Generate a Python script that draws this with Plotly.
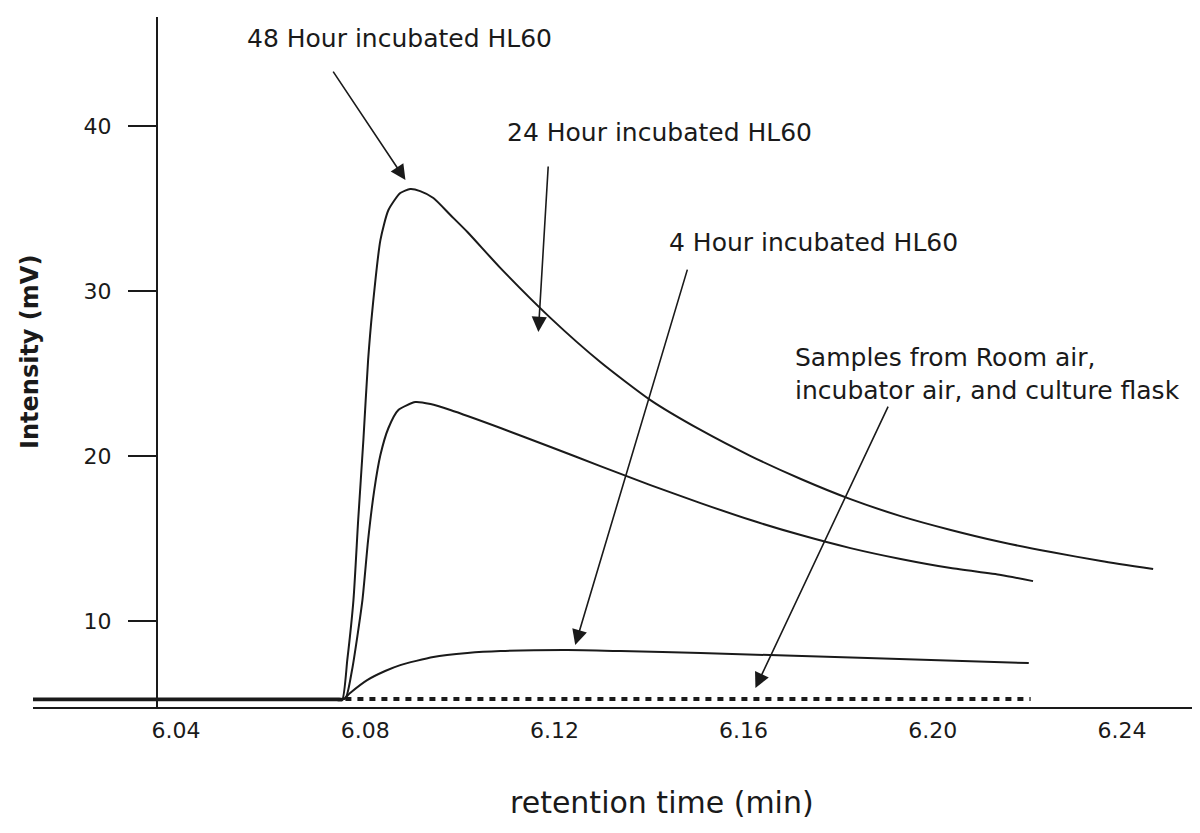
import plotly.graph_objects as go

# ---- data (retention time in min, intensity in mV) ----
t_48h = [6.0097, 6.0500, 6.0700, 6.0740, 6.0751, 6.0762, 6.0775, 6.0785, 6.0796, 6.0806,
         6.0815, 6.0832, 6.0849, 6.0874, 6.0895, 6.0916, 6.0944, 6.0980, 6.1016, 6.1086,
         6.1192, 6.1297, 6.1403, 6.1509, 6.1615, 6.1721, 6.1826, 6.1932, 6.2038, 6.2144,
         6.2250, 6.2356, 6.2466]
i_48h = [5.20, 5.20, 5.20, 5.20, 5.20, 7.64, 11.27, 16.12, 20.97, 25.82,
         28.85, 33.09, 34.91, 35.94, 36.18, 36.06, 35.64, 34.61, 33.58, 31.39,
         28.36, 25.70, 23.39, 21.58, 20.00, 18.61, 17.39, 16.36, 15.52, 14.79,
         14.18, 13.64, 13.15]

t_24h = [6.0097, 6.0500, 6.0700, 6.0745, 6.0758, 6.0772, 6.0794, 6.0806, 6.0819, 6.0832,
         6.0849, 6.0870, 6.0906, 6.0938, 6.0980, 6.1086, 6.1192, 6.1297, 6.1403, 6.1509,
         6.1615, 6.1721, 6.1826, 6.1932, 6.2038, 6.2144, 6.2212]
i_24h = [5.30, 5.30, 5.30, 5.30, 5.30, 7.03, 11.27, 14.91, 17.94, 20.06,
         21.70, 22.79, 23.27, 23.15, 22.79, 21.70, 20.55, 19.39, 18.24, 17.15,
         16.12, 15.21, 14.42, 13.76, 13.21, 12.79, 12.42]

t_4h = [6.0097, 6.0500, 6.0700, 6.0740, 6.0753, 6.0768, 6.0804, 6.0842, 6.0874, 6.0944,
        6.1016, 6.1086, 6.1228, 6.1340, 6.1509, 6.1862, 6.2203]
i_4h = [5.25, 5.25, 5.25, 5.25, 5.25, 5.64, 6.42, 6.97, 7.33, 7.82,
        8.06, 8.18, 8.24, 8.18, 8.06, 7.76, 7.45]

t_blank = [6.0758, 6.1200, 6.1700, 6.2207]
i_blank = [5.27, 5.27, 5.27, 5.27]

x_ticks = [6.04, 6.08, 6.12, 6.16, 6.20, 6.24]
x_ticktext = ["6.04", "6.08", "6.12", "6.16", "6.20", "6.24"]
y_ticks = [10, 20, 30, 40]
y_ticktext = ["10", "20", "30", "40"]

labels = ["48 Hour incubated HL60", "24 Hour incubated HL60", "4 Hour incubated HL60",
          "Samples from Room air,<br>incubator air, and culture flask"]

FONT = "DejaVu Sans"
INK = "#1a1a1a"

fig = go.Figure()
for t, i in [(t_48h, i_48h), (t_24h, i_24h), (t_4h, i_4h)]:
    fig.add_trace(go.Scatter(x=t, y=i, mode="lines",
                             line=dict(color=INK, width=2, shape="spline", smoothing=0.6),
                             showlegend=False, hoverinfo="skip"))
fig.add_trace(go.Scatter(x=t_blank, y=i_blank, mode="lines",
                         line=dict(color=INK, width=4, dash="6px,6px"),
                         showlegend=False, hoverinfo="skip"))

# label texts (left edge, vertical middle)
text_pos = [(6.0546, 45.33), (6.1096, 39.58), (6.1439, 32.97), (6.1704, 24.97)]
for (tx, ty), lab in zip(text_pos, labels):
    fig.add_annotation(x=tx, y=ty, xref="x", yref="y", text=lab, showarrow=False,
                       xanchor="left", yanchor="middle", align="left",
                       font=dict(family=FONT, size=25, color=INK))

# arrows: (tip_x, tip_y, tail_x, tail_y)
arrows = [(6.0885, 36.73, 6.0730, 43.39),
          (6.1166, 27.52, 6.1187, 37.64),
          (6.1244, 8.55, 6.1482, 31.39),
          (6.1625, 5.94, 6.1907, 23.09)]
for x0, y0, x1, y1 in arrows:
    fig.add_annotation(x=x0, y=y0, ax=x1, ay=y1, xref="x", yref="y", axref="x", ayref="y",
                       text="", showarrow=True, arrowhead=2, arrowsize=1.9,
                       arrowwidth=1.6, arrowcolor=INK)

# axis titles
fig.add_annotation(x=-0.0026, y=0.5145, xref="paper", yref="paper", text="<b>Intensity (mV)</b>",
                   textangle=-90, showarrow=False, xanchor="center", yanchor="middle",
                   font=dict(family=FONT, size=24, color=INK))
fig.add_annotation(x=0.5413, y=-0.139, xref="paper", yref="paper", text="retention time (min)",
                   showarrow=False, xanchor="center", yanchor="middle",
                   font=dict(family=FONT, size=30, color=INK))

fig.update_layout(
    width=1192, height=825,
    margin=dict(l=25, r=5, t=9, b=126),
    plot_bgcolor="white", paper_bgcolor="white",
    xaxis=dict(range=[6.00974, 6.25545], showline=True, linecolor=INK, linewidth=2,
               ticks="", tickvals=x_ticks, ticktext=x_ticktext, showgrid=False,
               zeroline=False, tickfont=dict(family=FONT, size=22, color=INK),
               ticklabelstandoff=3),
    yaxis=dict(range=[4.79, 46.61], anchor="free", position=0.1067, showline=True,
               linecolor=INK, linewidth=2, ticks="outside", ticklen=28, tickwidth=1.5,
               tickcolor=INK, tickvals=y_ticks, ticktext=y_ticktext, showgrid=False,
               zeroline=False, tickfont=dict(family=FONT, size=22, color=INK),
               ticklabelstandoff=12),
)

fig.write_html("out.html")
